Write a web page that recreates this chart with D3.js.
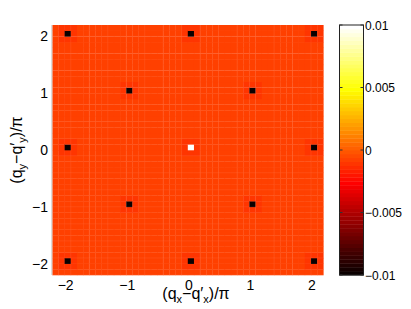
<!DOCTYPE html>
<html><head><meta charset="utf-8">
<script src="https://cdn.jsdelivr.net/npm/d3@7"></script>
<style>
html,body{margin:0;padding:0;background:#fff;}
text{font-family:"Liberation Sans",Arial,Helvetica,sans-serif;fill:#000;}
</style></head>
<body><svg id="c" width="411" height="309"></svg>
<script>
// ---- data ----
const gridStart = -2.2;          // first cell edge (units of pi)
const cellStep = 0.1;            // cell size
const cellCount = 44;            // cells per side
const backgroundValue = -0.0008; // typical value of the flat background
const haloValue = -0.0011;       // slightly lower values next to the peaks
const peakX = [-2, 0, 2, -1, 1, -2, 0, 2, -1, 1, -2, 0, 2];
const peakY = [ 2, 2, 2,  1, 1,  0, 0, 0, -1, -1, -2, -2, -2];
const peakV = [-0.01,-0.01,-0.01,-0.01,-0.01,-0.01,0.01,-0.01,-0.01,-0.01,-0.01,-0.01,-0.01];
const xTicks = [-2, -1, 0, 1, 2];
const yTicks = [-2, -1, 0, 1, 2];
const cbTicks = [-0.01, -0.005, 0, 0.005, 0.01];
const cbTickLabels = ["\u22120.01", "\u22120.005", "0", "0.005", "0.01"];
const cMin = -0.01, cMax = 0.01;

// ---- MATLAB 'hot' colormap, 64 levels ----
const nLev = 64;
function hot(i){
  const r = i < 24 ? (i+1)/24 : 1;
  const g = i < 24 ? 0 : (i < 48 ? (i-23)/24 : 1);
  const b = i < 48 ? 0 : (i-47)/16;
  return d3.rgb(Math.round(r*255), Math.round(g*255), Math.round(b*255)).toString();
}
function colorOf(v){
  let i = Math.floor((v - cMin)/(cMax - cMin)*nLev);
  i = Math.max(0, Math.min(nLev-1, i));
  return hot(i);
}

// build cell table
const cells = [];
const idx = v => Math.round((v - gridStart)/cellStep);
const grid = d3.range(cellCount).map(() => d3.range(cellCount).map(() => backgroundValue));
peakX.forEach((px, k) => {
  const ci = idx(px), cj = idx(peakY[k]);
  for (let di=-1; di<=1; di++) for (let dj=-1; dj<=1; dj++){
    const a = ci+di, b = cj+dj;
    if (a>=0 && a<cellCount && b>=0 && b<cellCount && !(di===0&&dj===0)) grid[a][b] = Math.min(grid[a][b], haloValue);
  }
});
peakX.forEach((px, k) => { grid[idx(px)][idx(peakY[k])] = peakV[k]; });
for (let i=0;i<cellCount;i++) for (let j=0;j<cellCount;j++)
  cells.push({x0: gridStart + i*cellStep, y0: gridStart + j*cellStep, v: grid[i][j]});

// ---- layout ----
const svg = d3.select("#c");
const X0 = 52.3, X1 = 323.3, Y0 = 25, Y1 = 275;
const x = d3.scaleLinear([gridStart, gridStart + cellCount*cellStep], [X0, X1]);
const y = d3.scaleLinear([gridStart, gridStart + cellCount*cellStep], [Y1, Y0]);

const g = svg.append("g");
g.selectAll("rect.cell").data(cells).join("rect")
  .attr("class","cell")
  .attr("x", d => x(d.x0))
  .attr("y", d => y(d.y0 + cellStep))
  .attr("width", d => x(d.x0 + cellStep) - x(d.x0) + 0.3)
  .attr("height", d => y(d.y0) - y(d.y0 + cellStep) + 0.3)
  .attr("fill", d => colorOf(d.v));

// faint rendering seams like the reference
const seams = d3.range(0, cellCount+1, 3).map(i => gridStart + i*cellStep);
g.selectAll("line.sx").data(seams).join("line")
  .attr("x1", d => x(d)).attr("x2", d => x(d)).attr("y1", Y0).attr("y2", Y1)
  .attr("stroke", "#fff").attr("stroke-opacity", 0.07).attr("stroke-width", 1);
g.selectAll("line.sy").data(seams).join("line")
  .attr("y1", d => y(d)).attr("y2", d => y(d)).attr("x1", X0).attr("x2", X1)
  .attr("stroke", "#fff").attr("stroke-opacity", 0.07).attr("stroke-width", 1);

// faint axes line on the left
svg.append("line").attr("x1", X0-0.5).attr("x2", X0-0.5).attr("y1", Y0).attr("y2", Y1)
  .attr("stroke", "#ccc").attr("stroke-width", 1);

// tick labels
const fmt = v => v < 0 ? "\u2212" + Math.abs(v) : String(v);
svg.selectAll("text.xt").data(xTicks).join("text")
  .attr("x", d => x(d) + 1).attr("y", 290)
  .attr("text-anchor", "middle").attr("font-size", 14)
  .text(fmt);
svg.selectAll("text.yt").data(yTicks).join("text")
  .attr("x", 48).attr("y", d => y(d) + 5)
  .attr("text-anchor", "end").attr("font-size", 14)
  .text(fmt);

// axis labels
const xl = svg.append("text").attr("x", 196).attr("y", 299)
  .attr("text-anchor", "middle").attr("font-size", 16);
xl.append("tspan").text("(q");
xl.append("tspan").attr("font-size", 11).attr("dy", 4).text("x");
xl.append("tspan").attr("dy", -4).text("\u2212q\u2032");
xl.append("tspan").attr("font-size", 11).attr("dy", 4).text("x");
xl.append("tspan").attr("dy", -4).text(")/\u03c0");

const yl = svg.append("text").attr("transform", "translate(22,150) rotate(-90)")
  .attr("text-anchor", "middle").attr("font-size", 16);
yl.append("tspan").text("(q");
yl.append("tspan").attr("font-size", 11).attr("dy", 4).text("y");
yl.append("tspan").attr("dy", -4).text("\u2212q\u2032");
yl.append("tspan").attr("font-size", 11).attr("dy", 4).text("y");
yl.append("tspan").attr("dy", -4).text(")/\u03c0");

// ---- colorbar ----
const CX0 = 339.5, CX1 = 363.5;
const cb = d3.scaleLinear([cMin, cMax], [Y1, Y0]);
const levels = d3.range(nLev);
svg.append("g").selectAll("rect").data(levels).join("rect")
  .attr("x", CX0)
  .attr("y", i => cb(cMin + (i+1)*(cMax-cMin)/nLev))
  .attr("width", CX1 - CX0)
  .attr("height", i => cb(cMin + i*(cMax-cMin)/nLev) - cb(cMin + (i+1)*(cMax-cMin)/nLev) + 0.4)
  .attr("fill", i => hot(i));
svg.append("rect").attr("x", CX0).attr("y", Y0).attr("width", CX1-CX0).attr("height", Y1-Y0)
  .attr("fill", "none").attr("stroke", "#222").attr("stroke-width", 1);
const cbAxis = svg.append("g");
cbAxis.selectAll("line.l").data(cbTicks).join("line")
  .attr("x1", CX0).attr("x2", CX0+3).attr("y1", d => cb(d)).attr("y2", d => cb(d))
  .attr("stroke", "#333");
cbAxis.selectAll("line.r").data(cbTicks).join("line")
  .attr("x1", CX1-3).attr("x2", CX1).attr("y1", d => cb(d)).attr("y2", d => cb(d))
  .attr("stroke", "#333");
cbAxis.selectAll("text").data(cbTicks).join("text")
  .attr("x", CX1 + 1.5).attr("y", d => cb(d) + 4.5)
  .attr("font-size", 12)
  .text((d, i) => cbTickLabels[i]);
</script></body></html>
